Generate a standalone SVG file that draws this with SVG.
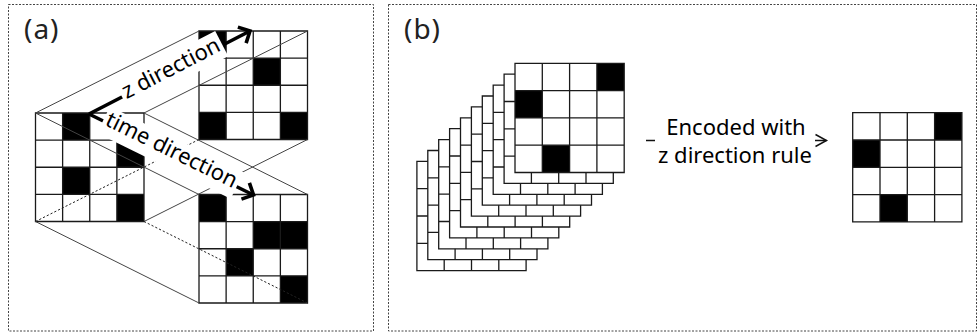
<svg xmlns="http://www.w3.org/2000/svg" xmlns:xlink="http://www.w3.org/1999/xlink" width="979" height="333" viewBox="0 0 979 333">
<style>
.border{fill:none;stroke:#444;stroke-width:1;stroke-dasharray:2 1.5}
.bg{fill:#fff}
.blk{fill:#000}
.gl{fill:none;stroke:#1a1a1a;stroke-width:1.3}
.conn{fill:none;stroke:#444;stroke-width:1}
.dot{stroke:#222;stroke-dasharray:2.2 2}
.bold{fill:none;stroke:#000;stroke-width:3.6}
.thin{fill:none;stroke:#111;stroke-width:1.3}
.mask{fill:#fff}
.lbl{font-family:'Noto Sans','Liberation Sans',sans-serif;font-size:22px;fill:#000}
.panel{font-family:'Noto Sans','Liberation Sans',sans-serif;font-size:28px;fill:#222;letter-spacing:1px}
</style>
<defs>
<path id="gridA" d="M0,0H108.5V108.5H0Z M27.125,0V108.5 M54.25,0V108.5 M81.375,0V108.5 M0,27.125H108.5 M0,54.25H108.5 M0,81.375H108.5"/>
<path id="gridB" d="M0,0H109.2V109.2H0Z M27.3,0V109.2 M54.6,0V109.2 M81.9,0V109.2 M0,27.3H109.2 M0,54.6H109.2 M0,81.9H109.2"/>
<g id="layer"><rect class="bg" width="109.2" height="109.2"/><use xlink:href="#gridB" href="#gridB" class="gl"/></g>
<marker id="headBold" markerUnits="userSpaceOnUse" viewBox="-14 -12 18 24" refX="0" refY="0" markerWidth="18" markerHeight="24" orient="auto" overflow="visible">
<path d="M-9,-9 L0,0 L-9,9" fill="none" stroke="#000" stroke-width="3.6"/>
</marker>
<marker id="headThin" markerUnits="userSpaceOnUse" viewBox="-14 -8 16 16" refX="0" refY="0" markerWidth="16" markerHeight="16" orient="auto" overflow="visible">
<path d="M-11,-6 L0,0 L-11,6" fill="none" stroke="#111" stroke-width="1.5"/>
</marker>
</defs>
<rect width="979" height="333" fill="#fff"/>

<g id="panel-a">
<rect class="border" x="8.5" y="4.5" width="365" height="326.5"/>
<text class="panel" x="24" y="39">(a)</text>
</g>
<g id="panel-b">
<rect class="border" x="388.5" y="4.5" width="588" height="326.5"/>
<text class="panel" x="404" y="39">(b)</text>
</g>

<g id="grid-left" transform="translate(35.5,113)">
<rect class="bg" width="108.5" height="108.5"/>
<rect class="blk" x="27.125" y="0" width="27.125" height="27.125"/>
<rect class="blk" x="81.375" y="27.125" width="27.125" height="27.125"/>
<rect class="blk" x="27.125" y="54.25" width="27.125" height="27.125"/>
<rect class="blk" x="81.375" y="81.375" width="27.125" height="27.125"/>
<use xlink:href="#gridA" href="#gridA" class="gl"/>
</g>
<g id="grid-upper" transform="translate(199,31)">
<rect class="bg" width="108.5" height="108.5"/>
<rect class="blk" x="0" y="0" width="27.125" height="27.125"/>
<rect class="blk" x="54.25" y="27.125" width="27.125" height="27.125"/>
<rect class="blk" x="0" y="81.375" width="27.125" height="27.125"/>
<rect class="blk" x="81.375" y="81.375" width="27.125" height="27.125"/>
<use xlink:href="#gridA" href="#gridA" class="gl"/>
</g>
<g id="grid-lower" transform="translate(199,194.5)">
<rect class="bg" width="108.5" height="108.5"/>
<rect class="blk" x="0" y="0" width="27.125" height="27.125"/>
<rect class="blk" x="54.25" y="27.125" width="54.25" height="27.125"/>
<rect class="blk" x="27.125" y="54.25" width="27.125" height="27.125"/>
<rect class="blk" x="81.375" y="81.375" width="27.125" height="27.125"/>
<use xlink:href="#gridA" href="#gridA" class="gl"/>
</g>

<g id="connectors">
<line class="conn" x1="35.5" y1="113" x2="199" y2="31"/>
<line class="conn" x1="144" y1="113" x2="307.5" y2="31"/>
<line class="conn" x1="144" y1="221.5" x2="307.5" y2="139.5"/>
<line class="conn dot" x1="35.5" y1="221.5" x2="199" y2="139.5"/>
<line class="conn" x1="35.5" y1="113" x2="199" y2="194.5"/>
<line class="conn" x1="144" y1="113" x2="307.5" y2="194.5"/>
<line class="conn" x1="35.5" y1="221.5" x2="199" y2="303"/>
<line class="conn dot" x1="144" y1="221.5" x2="307.5" y2="303"/>
<line class="bold" x1="89" y1="114" x2="250" y2="31" marker-end="url(#headBold)"/>
<line class="bold" x1="89" y1="114" x2="253.5" y2="195" marker-end="url(#headBold)"/>
<line class="thin" x1="646" y1="140.5" x2="826.5" y2="140.5" marker-end="url(#headThin)"/>
</g>

<g id="label-z" transform="translate(172.3,71.1) rotate(-27.27)">
<rect class="mask" x="-56.5" y="-16" width="113" height="28.5"/>
<text class="lbl" x="0" y="4" text-anchor="middle">z direction</text>
</g>
<g id="label-time" transform="translate(169.8,153.8) rotate(26.24)">
<rect class="mask" x="-74.5" y="-16" width="149" height="29.5"/>
<text class="lbl" x="0" y="3" text-anchor="middle">time direction</text>
</g>

<g id="stack">
<use xlink:href="#layer" href="#layer" x="416.9" y="161.4"/>
<use xlink:href="#layer" href="#layer" x="427.8" y="150.5"/>
<use xlink:href="#layer" href="#layer" x="438.7" y="139.6"/>
<use xlink:href="#layer" href="#layer" x="449.6" y="128.7"/>
<use xlink:href="#layer" href="#layer" x="460.5" y="117.8"/>
<use xlink:href="#layer" href="#layer" x="471.4" y="106.9"/>
<use xlink:href="#layer" href="#layer" x="482.3" y="96"/>
<use xlink:href="#layer" href="#layer" x="493.2" y="85.1"/>
<use xlink:href="#layer" href="#layer" x="504.1" y="74.2"/>
<g transform="translate(515,63.3)">
<rect class="bg" width="109.2" height="109.2"/>
<rect class="blk" x="81.9" y="0" width="27.3" height="27.3"/>
<rect class="blk" x="0" y="27.3" width="27.3" height="27.3"/>
<rect class="blk" x="27.3" y="81.9" width="27.3" height="27.3"/>
<use xlink:href="#gridB" href="#gridB" class="gl"/>
</g>
</g>

<g id="label-encoded">
<rect class="mask" x="655" y="112" width="160" height="58"/>
<text class="lbl" x="736" y="135" text-anchor="middle">Encoded with</text>
<text class="lbl" x="735" y="163" text-anchor="middle">z direction rule</text>
</g>

<g id="grid-encoded" transform="translate(852.7,112.7)">
<rect class="bg" width="109.2" height="109.2"/>
<rect class="blk" x="81.9" y="0" width="27.3" height="27.3"/>
<rect class="blk" x="0" y="27.3" width="27.3" height="27.3"/>
<rect class="blk" x="27.3" y="81.9" width="27.3" height="27.3"/>
<use xlink:href="#gridB" href="#gridB" class="gl"/>
</g>
</svg>
